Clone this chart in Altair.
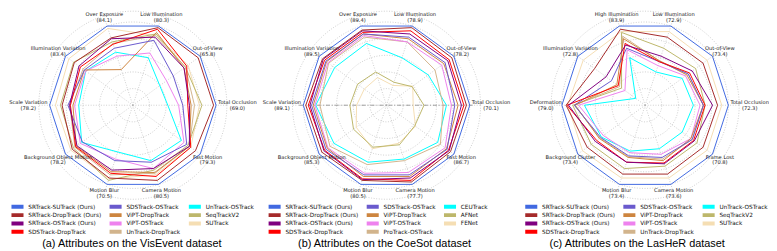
import altair as alt
import numpy as np
import pandas as pd

alt.data_transformers.disable_max_rows()

# ---------------- data ----------------
COMMON = ["SRTrack-SUTrack (Ours)", "SRTrack-DropTrack (Ours)", "SRTrack-OSTrack (Ours)",
          "SDSTrack-DropTrack", "SDSTrack-OSTrack", "ViPT-DropTrack", "ViPT-OSTrack"]
METHODS_VE = COMMON + ["UnTrack-DropTrack", "UnTrack-OSTrack", "SeqTrackV2", "SUTrack"]
METHODS_CS = COMMON + ["ProTrack-OSTrack", "CEUTrack", "AFNet", "FENet"]
METHODS_LH = METHODS_VE
COLORS = ["#4169e1", "#a52a2a", "#800080", "#ff0000", "#6a5acd", "#cd853f",
          "#ee82ee", "#d2b48c", "#00ffff", "#bdb76b", "#f5deb3"]

VE_ATTRS = ["Over Exposure", "Low Illumination", "Out-of-View", "Total Occlusion", "Fast Motion",
            "Camera Motion", "Motion Blur", "Background Object Motion", "Scale Variation",
            "Illumination Variation"]
VE_BEST = [84.1, 80.3, 65.8, 69.0, 79.3, 80.5, 70.5, 78.2, 78.2, 83.4]
# normalised attribute scores (best method = 1.0)
VE_SCORES = {
    "SRTrack-SUTrack (Ours)":   [1.00, 1.00, 1.00, 1.00, 1.00, 1.00, 1.00, 1.00, 1.00, 1.00],
    "SRTrack-DropTrack (Ours)": [0.85, 0.98, 0.97, 0.97, 0.93, 0.95, 0.92, 0.90, 0.85, 0.87],
    "SRTrack-OSTrack (Ours)":   [0.84, 0.86, 0.76, 0.68, 0.84, 0.80, 0.82, 0.83, 0.76, 0.80],
    "SDSTrack-DropTrack":       [0.77, 0.96, 0.80, 0.66, 0.86, 0.90, 0.86, 0.85, 0.75, 0.78],
    "SDSTrack-OSTrack":         [0.72, 0.82, 0.60, 0.60, 0.80, 0.72, 0.70, 0.75, 0.78, 0.72],
    "ViPT-DropTrack":           [0.45, 0.92, 0.76, 0.70, 0.84, 0.85, 0.84, 0.84, 0.72, 0.72],
    "ViPT-OSTrack":             [0.62, 0.66, 0.50, 0.55, 0.76, 0.80, 0.68, 0.78, 0.70, 0.70],
    "UnTrack-DropTrack":        [0.78, 0.88, 0.78, 0.74, 0.84, 0.86, 0.88, 0.86, 0.76, 0.74],
    "UnTrack-OSTrack":          [0.67, 0.60, 0.40, 0.42, 0.72, 0.70, 0.59, 0.76, 0.65, 0.70],
    "SeqTrackV2":               [0.80, 0.90, 0.78, 0.83, 0.82, 0.82, 0.95, 0.88, 0.87, 0.88],
    "SUTrack":                  [0.97, 0.88, 0.82, 0.80, 0.86, 0.88, 0.93, 0.92, 0.93, 0.95],
}

CS_ATTRS = ["Over Exposure", "Low Illumination", "Out-of-View", "Total Occlusion", "Fast Motion",
            "Camera Motion", "Motion Blur", "Background Object Motion", "Scale Variation",
            "Illumination Variation"]
CS_BEST = [89.4, 78.9, 78.2, 70.1, 86.7, 77.7, 80.5, 85.3, 89.1, 89.5]
CS_SCORES = {
    "SRTrack-SUTrack (Ours)":   [1.00, 1.00, 1.00, 1.00, 1.00, 1.00, 1.00, 1.00, 1.00, 1.00],
    "SRTrack-DropTrack (Ours)": [0.95, 0.98, 0.97, 0.96, 0.95, 0.97, 0.95, 0.96, 0.97, 0.95],
    "SRTrack-OSTrack (Ours)":   [0.94, 0.90, 0.91, 0.90, 0.93, 0.92, 0.94, 0.93, 0.92, 0.94],
    "SDSTrack-DropTrack":       [0.92, 0.94, 0.93, 0.93, 0.92, 0.95, 0.93, 0.92, 0.94, 0.92],
    "SDSTrack-OSTrack":         [0.90, 0.86, 0.87, 0.82, 0.90, 0.88, 0.88, 0.90, 0.90, 0.90],
    "ViPT-DropTrack":           [0.90, 0.84, 0.85, 0.86, 0.89, 0.90, 0.90, 0.88, 0.88, 0.89],
    "ViPT-OSTrack":             [0.88, 0.80, 0.82, 0.78, 0.87, 0.85, 0.86, 0.87, 0.86, 0.87],
    "ProTrack-OSTrack":         [0.86, 0.80, 0.72, 0.68, 0.80, 0.70, 0.75, 0.84, 0.80, 0.86],
    "CEUTrack":                 [0.78, 0.60, 0.62, 0.72, 0.76, 0.68, 0.72, 0.78, 0.85, 0.77],
    "AFNet":                    [0.42, 0.29, 0.38, 0.45, 0.42, 0.50, 0.53, 0.49, 0.44, 0.43],
    "FENet":                    [0.35, 0.25, 0.39, 0.32, 0.43, 0.48, 0.55, 0.45, 0.36, 0.33],
}

LH_ATTRS = ["High Illumination", "Low Illumination", "Out-of-View", "Total Occlusion", "Frame Lost",
            "Camera Motion", "Motion Blur", "Background Clutter", "Deformation",
            "Illumination Variation"]
LH_BEST = [83.9, 72.9, 73.4, 72.3, 70.8, 73.6, 73.4, 73.4, 79.0, 72.8]
LH_SCORES = {
    "SRTrack-SUTrack (Ours)":   [1.00, 1.00, 1.00, 1.00, 1.00, 1.00, 1.00, 1.00, 1.00, 1.00],
    "SRTrack-DropTrack (Ours)": [0.96, 0.86, 0.86, 0.87, 0.86, 0.87, 0.87, 0.86, 0.95, 0.75],
    "SRTrack-OSTrack (Ours)":   [0.76, 0.62, 0.70, 0.81, 0.73, 0.74, 0.72, 0.74, 0.92, 0.58],
    "SDSTrack-DropTrack":       [0.78, 0.55, 0.66, 0.72, 0.72, 0.73, 0.72, 0.72, 0.94, 0.40],
    "SDSTrack-OSTrack":         [0.72, 0.55, 0.64, 0.70, 0.70, 0.66, 0.64, 0.66, 0.85, 0.50],
    "ViPT-DropTrack":           [0.84, 0.56, 0.62, 0.70, 0.68, 0.70, 0.66, 0.68, 0.84, 0.42],
    "ViPT-OSTrack":             [0.70, 0.50, 0.60, 0.66, 0.68, 0.62, 0.60, 0.62, 0.80, 0.30],
    "UnTrack-DropTrack":        [0.87, 0.56, 0.64, 0.70, 0.70, 0.68, 0.65, 0.67, 0.85, 0.38],
    "UnTrack-OSTrack":          [0.60, 0.42, 0.55, 0.58, 0.55, 0.55, 0.58, 0.65, 0.73, 0.14],
    "SeqTrackV2":               [0.92, 0.72, 0.75, 0.72, 0.77, 0.77, 0.80, 0.80, 0.87, 0.35],
    "SUTrack":                  [0.93, 0.93, 0.92, 0.92, 0.92, 0.92, 0.92, 0.93, 0.93, 0.92],
}

CAPTIONS = ["(a) Attributes on the VisEvent dataset",
            "(b) Attributes on the CoeSot dataset",
            "(c) Attributes on the LasHeR dataset"]

# ---------------- layout / style ----------------
R_PX = 84.0
W, H = 250, 188
CY = 94.0
RINGS = [0.2, 0.4, 0.6, 0.8, 1.0, 1.13]
LAB_FONT = "DejaVu Sans"
LAB_SIZE = 5.2


def radar(attrs, best, methods, scores, caption, cx, legx, center_line=False):
    n = len(attrs)
    theta = np.deg2rad(108 - 36 * np.arange(n))
    xs = alt.Scale(domain=[-cx / R_PX, (W - cx) / R_PX], nice=False, zero=False)
    ys = alt.Scale(domain=[-(H - CY) / R_PX, CY / R_PX], nice=False, zero=False)

    def X():
        return alt.X("x:Q", scale=xs, axis=None)

    def Y():
        return alt.Y("y:Q", scale=ys, axis=None)

    # grid rings
    phi = np.deg2rad(np.arange(0, 361, 3))
    ring_rows = [{"ring": r, "k": k, "x": r * np.cos(p), "y": r * np.sin(p)}
                 for r in RINGS for k, p in enumerate(phi)]
    rings = alt.Chart(pd.DataFrame(ring_rows)).mark_line(
        color="#b0b0b0", strokeWidth=0.6, strokeDash=[1, 1.6]
    ).encode(X(), Y(), detail="ring:N", order="k:Q")

    # spokes
    spoke_rows = []
    for i, t in enumerate(theta):
        spoke_rows.append({"a": i, "k": 0, "x": 0.0, "y": 0.0})
        spoke_rows.append({"a": i, "k": 1, "x": RINGS[-1] * np.cos(t), "y": RINGS[-1] * np.sin(t)})
    spokes = alt.Chart(pd.DataFrame(spoke_rows)).mark_line(
        color="#b0b0b0", strokeWidth=0.6, strokeDash=[1, 1.6]
    ).encode(X(), Y(), detail="a:N", order="k:Q")

    layers = [rings, spokes]

    if center_line:
        cl = pd.DataFrame({"x": [-1.05, 1.05], "y": [0.0, 0.0], "k": [0, 1]})
        layers.append(alt.Chart(cl).mark_line(
            color="#8a8a8a", strokeWidth=0.8, strokeDash=[4, 2, 1, 2]
        ).encode(X(), Y(), order="k:Q"))

    # series polygons (closed)
    rows = []
    for m in methods[::-1]:
        vals = scores[m]
        for k in range(n + 1):
            i = k % n
            rows.append({"method": m, "k": k,
                         "x": vals[i] * np.cos(theta[i]), "y": vals[i] * np.sin(theta[i])})
    lines = alt.Chart(pd.DataFrame(rows)).mark_line(strokeWidth=1).encode(
        X(), Y(), order="k:Q",
        color=alt.Color("method:N", scale=alt.Scale(domain=methods, range=COLORS),
                        legend=alt.Legend(orient="none", legendX=legx, legendY=H + 5,
                                          columns=3, title=None,
                                          symbolType="M-1.9,0H1.9",
                                          symbolStrokeWidth=4, symbolSize=49,
                                          clipHeight=7,
                                          labelFont=LAB_FONT, labelFontSize=5.8,
                                          labelColor="#111111", columnPadding=8,
                                          rowPadding=1.4, labelOffset=6, symbolLimit=0,
                                          labelLimit=200, gridAlign="each",
                                          direction="vertical")),
    )
    layers.append(lines)

    # attribute labels (name above, best score below)
    lab_rows = []
    for i, t in enumerate(theta):
        w = 0.5 * LAB_SIZE * len(attrs[i])
        if abs(np.cos(t)) > 0.99:
            r = R_PX + 2 + w / 2
        else:
            r = R_PX * 1.11
        lab_rows.append({"x": r * np.cos(t) / R_PX, "y": r * np.sin(t) / R_PX,
                         "name": attrs[i], "val": f"({best[i]:.1f})"})
    lab_df = pd.DataFrame(lab_rows)
    names = alt.Chart(lab_df).mark_text(
        font=LAB_FONT, fontSize=LAB_SIZE, align="center", baseline="middle",
        color="#1a1a1a", dy=-2.9
    ).encode(X(), Y(), text="name:N")
    vals_t = alt.Chart(lab_df).mark_text(
        font=LAB_FONT, fontSize=LAB_SIZE, align="center", baseline="middle",
        color="#1a1a1a", dy=2.9
    ).encode(X(), Y(), text="val:N")
    layers += [names, vals_t]

    return alt.layer(*layers).properties(
        width=W, height=H,
        title=alt.TitleParams(caption, orient="bottom", font="Liberation Sans", fontSize=11,
                              fontWeight="normal", color="#000000", offset=2,
                              anchor="middle", frame="group"),
    )


a = radar(VE_ATTRS, VE_BEST, METHODS_VE, VE_SCORES, CAPTIONS[0], cx=126, legx=3.5)
b = radar(CS_ATTRS, CS_BEST, METHODS_CS, CS_SCORES, CAPTIONS[1], cx=127, legx=8, center_line=True)
c = radar(LH_ATTRS, LH_BEST, METHODS_LH, LH_SCORES, CAPTIONS[2], cx=133, legx=12)

chart = alt.hconcat(a, b, c, spacing=5, bounds="flush").resolve_scale(
    color="independent", x="independent", y="independent"
).resolve_legend(color="independent").configure_view(stroke=None).properties(padding=0)

chart.save("out.html", embed_options={"renderer": "svg", "actions": False})
